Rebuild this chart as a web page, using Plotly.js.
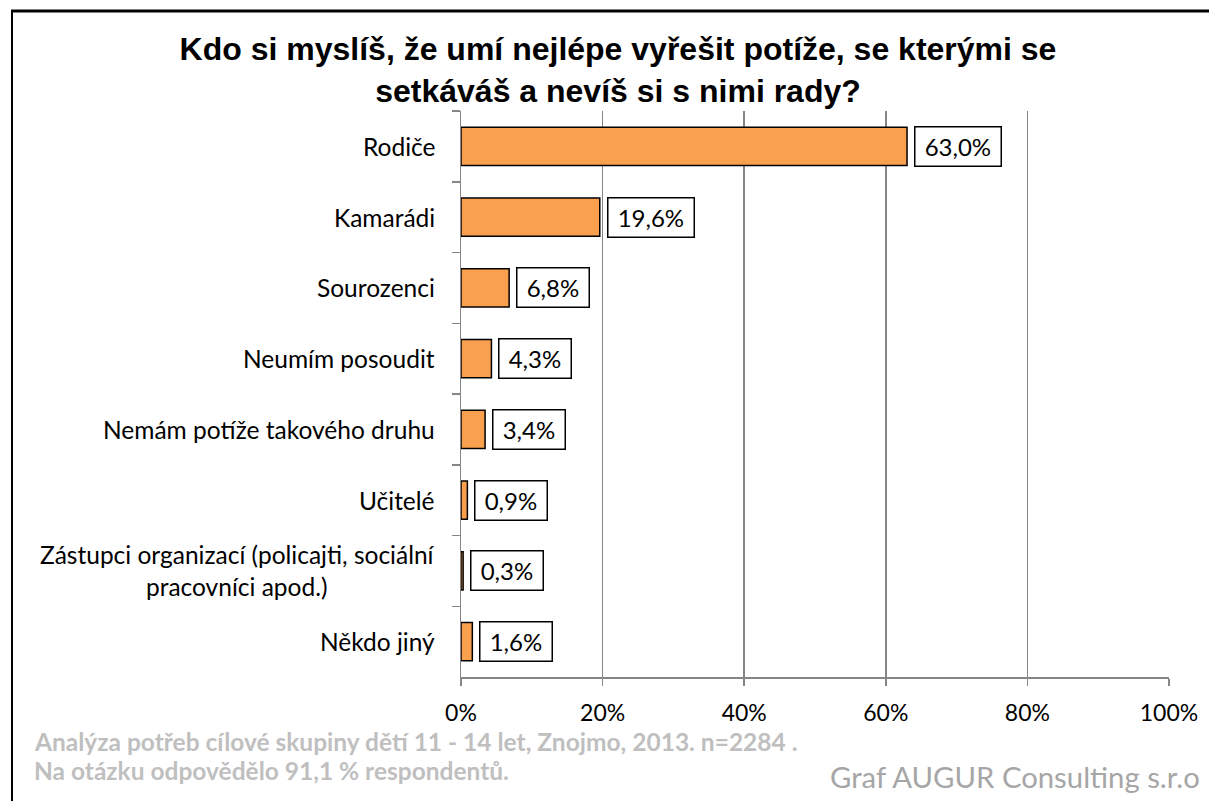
<!DOCTYPE html>
<html>
<head>
<meta charset="utf-8">
<script src="https://cdn.plot.ly/plotly-3.0.1.min.js"></script>
<style>
  html, body { margin: 0; padding: 0; background: #ffffff; }
  #chart { width: 1209px; height: 801px; }
</style>
</head>
<body>
<div id="chart"></div>
<script>
const categories = [
  "Rodiče",
  "Kamarádi",
  "Sourozenci",
  "Neumím posoudit",
  "Nemám potíže takového druhu",
  "Učitelé",
  "Zástupci organizací (policajti, sociální<br>pracovníci apod.)",
  "Někdo jiný"
];
const values = [63.0, 19.6, 6.8, 4.3, 3.4, 0.9, 0.3, 1.6];
const valueLabels = ["63,0%", "19,6%", "6,8%", "4,3%", "3,4%", "0,9%", "0,3%", "1,6%"];
const xTickVals = [0, 20, 40, 60, 80, 100];
const xTickText = ["0%", "20%", "40%", "60%", "80%", "100%"];
const titleText = "Kdo si myslíš, že umí nejlépe vyřešit potíže, se kterými se<br>setkáváš a nevíš si s nimi rady?";
const noteLines = [
  "Analýza potřeb cílové skupiny dětí 11 - 14 let, Znojmo, 2013. n=2284 .",
  "Na otázku odpovědělo 91,1 % respondentů."
];
const creditText = "Graf AUGUR Consulting s.r.o";

const W = 1209, H = 801;
const M = { l: 461, r: 40, t: 111, b: 124 };
const PW = W - M.l - M.r, PH = H - M.t - M.b;
const px = x => (x - M.l) / PW;
const py = y => (H - M.b - y) / PH;

const FONT = "Lato, 'Open Sans', sans-serif";
const GRID = "#868686";

const trace = {
  type: "bar",
  orientation: "h",
  x: values,
  y: categories,
  marker: { color: "#F9A04F", line: { color: "#000000", width: 1.5 } },
  hoverinfo: "skip",
  cliponaxis: false
};

const annotations = [];
categories.forEach((c, i) => {
  annotations.push({
    xref: "paper", yref: "y", x: 0, y: c,
    xanchor: "right", yanchor: "middle", xshift: -24,
    text: c, showarrow: false,
    align: c.indexOf("<br>") >= 0 ? "center" : "right",
    font: { family: FONT, size: 24.5, color: "#000000" }
  });
  annotations.push({
    xref: "x", yref: "y", x: values[i], y: c,
    xanchor: "left", yanchor: "middle", xshift: 7,
    text: "\u00a0" + valueLabels[i] + "\u00a0", showarrow: false,
    height: 32, valign: "middle",
    bgcolor: "#ffffff", bordercolor: "#000000", borderwidth: 1.5, borderpad: 3,
    font: { family: FONT, size: 24, color: "#000000" }
  });
});
annotations.push({
  xref: "paper", yref: "paper", x: px(32), y: py(741),
  xanchor: "left", yanchor: "middle", showarrow: false,
  text: "<b>" + noteLines[0] + "</b>",
  font: { family: FONT, size: 24.5, color: "#BFBFBF" }
});
annotations.push({
  xref: "paper", yref: "paper", x: px(32), y: py(770),
  xanchor: "left", yanchor: "middle", showarrow: false,
  text: "<b>" + noteLines[1] + "</b>",
  font: { family: FONT, size: 24.5, color: "#BFBFBF" }
});
annotations.push({
  xref: "paper", yref: "paper", x: px(1202), y: py(776),
  xanchor: "right", yanchor: "middle", showarrow: false,
  text: creditText,
  font: { family: FONT, size: 29.3, color: "#A6A6A6" }
});

const shapes = [
  { type: "line", xref: "paper", yref: "paper", x0: px(11), x1: px(1215), y0: py(11), y1: py(11),
    line: { color: "#000000", width: 3 } },
  { type: "line", xref: "paper", yref: "paper", x0: px(12), x1: px(12), y0: py(10), y1: py(805),
    line: { color: "#000000", width: 2 } }
];

const layout = {
  width: W, height: H,
  margin: M,
  paper_bgcolor: "#ffffff",
  plot_bgcolor: "#ffffff",
  showlegend: false,
  bargap: 0.46,
  title: {
    text: "<b>" + titleText + "</b>",
    x: 618 / W, xref: "container", xanchor: "center",
    y: 1 - 60 / H, yref: "container", yanchor: "middle",
    font: { family: "'Liberation Sans', Arial, sans-serif", size: 32, color: "#000000" }
  },
  xaxis: {
    range: [0, 100],
    tickvals: xTickVals, ticktext: xTickText,
    showgrid: true, gridcolor: GRID, gridwidth: 1.5,
    zeroline: false,
    showline: true, linecolor: GRID, linewidth: 1.5,
    ticks: "outside", ticklen: 7, tickcolor: GRID, tickwidth: 1.5,
    ticklabelstandoff: 8,
    tickfont: { family: FONT, size: 23, color: "#000000" },
    fixedrange: true
  },
  yaxis: {
    type: "category",
    autorange: "reversed",
    showticklabels: false,
    showgrid: false, zeroline: false,
    showline: true, linecolor: GRID, linewidth: 1.5,
    ticks: "outside", ticklen: 8, tickcolor: GRID, tickwidth: 1.5,
    tickson: "boundaries",
    fixedrange: true
  },
  annotations: annotations,
  shapes: shapes
};

Plotly.newPlot("chart", [trace], layout, { displayModeBar: false, staticPlot: true });
</script>
</body>
</html>
